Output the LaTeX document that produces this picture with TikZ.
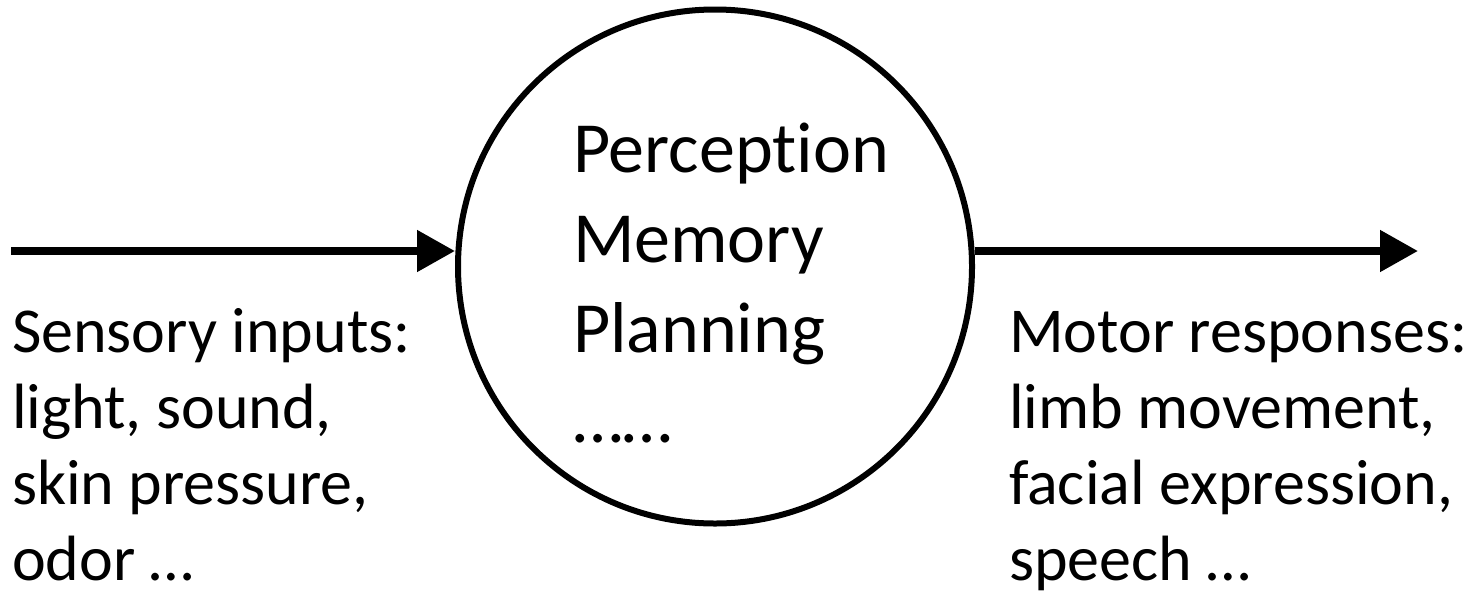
\documentclass[tikz,border=0pt]{standalone}
\usepackage{fontspec}
\setmainfont{Carlito}[RawFeature={-liga;-calt;-dlig}]
\usetikzlibrary{arrows.meta}
\begin{document}
\begin{tikzpicture}[x=0.5pt,y=-0.5pt,
  bigtxt/.style={inner sep=0pt, outer sep=0pt, align=left, anchor=base west,
    font=\fontsize{36pt}{45pt}\selectfont},
  sidetxt/.style={inner sep=0pt, outer sep=0pt, align=left, anchor=base west,
    font=\fontsize{32pt}{38pt}\selectfont},
  flow/.style={line width=4pt, -{Triangle[length=19pt,width=20pt]}}
]
\useasboundingbox (0,0) rectangle (1476,595);
\node[draw, circle, line width=3pt, minimum size=257pt, inner sep=0pt] (c) at (715,266.5) {};
\node[bigtxt] (ctext) at (573,442) {Percept\kern0pt ion\\Memory\\Planning\\……};
\node[sidetxt] (intext) at (12,580) {Sensory inputs:\\light, sound,\\skin pressure,\\odor …};
\node[sidetxt] (outtext) at (1009,580) {Motor responses:\\limb movement,\\facial expression,\\speech …};
\coordinate (inL) at (11,251);
\coordinate (outR) at (1418,251);
\draw[flow] (inL) -- (inL -| c.west);
\draw[flow] (c.east |- outR) -- (outR);
\end{tikzpicture}
\end{document}
